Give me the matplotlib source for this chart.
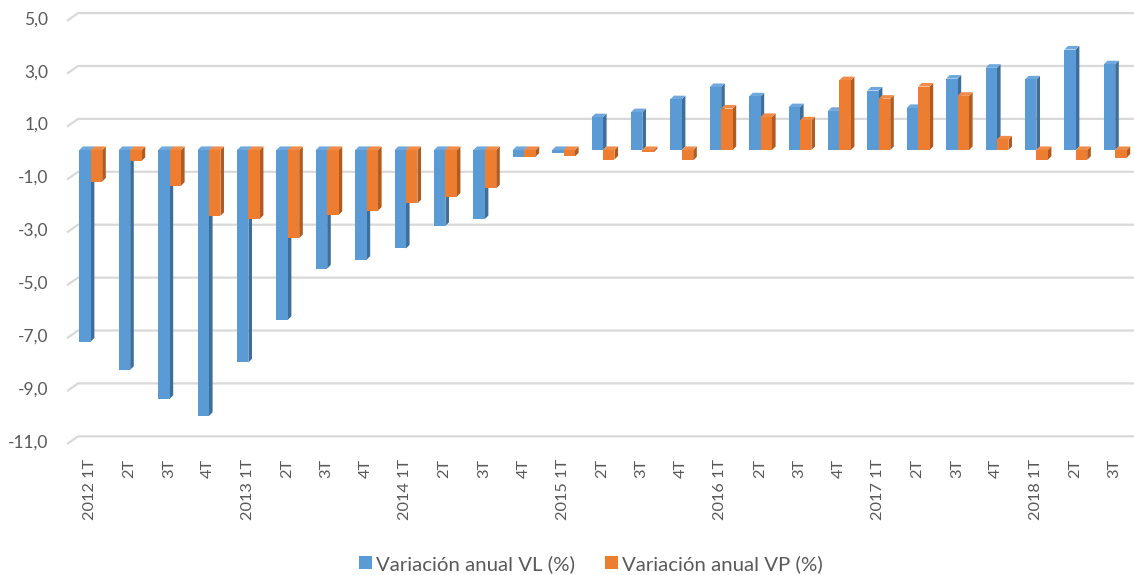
import matplotlib
matplotlib.use("Agg")
import matplotlib.pyplot as plt
from matplotlib.patches import Polygon, Patch
import numpy as np

plt.rcParams['font.family'] = ['Lato', 'DejaVu Sans']

categories = ["2012 1T", "2T", "3T", "4T",
              "2013 1T", "2T", "3T", "4T",
              "2014 1T", "2T", "3T", "4T",
              "2015 1T", "2T", "3T", "4T",
              "2016 1T", "2T", "3T", "4T",
              "2017 1T", "2T", "3T", "4T",
              "2018 1T", "2T", "3T"]

vl = [-7.24, -8.31, -9.41, -10.05,
      -8.03, -6.42, -4.48, -4.15,
      -3.72, -2.87, -2.61, -0.25,
      -0.10, 1.24, 1.43, 1.92,
      2.38, 2.03, 1.62, 1.48,
      2.25, 1.59, 2.70, 3.11,
      2.67, 3.80, 3.24]

vp = [-1.19, -0.41, -1.35, -2.49,
      -2.60, -3.33, -2.45, -2.29,
      -2.02, -1.76, -1.45, -0.25,
      -0.24, -0.36, -0.08, -0.39,
      1.57, 1.25, 1.12, 2.64,
      1.94, 2.40, 2.05, 0.40,
      -0.37, -0.37, -0.29]

yticks = [5, 3, 1, -1, -3, -5, -7, -9, -11]
ytick_labels = ["5,0", "3,0", "1,0", "-1,0", "-3,0", "-5,0", "-7,0", "-9,0", "-11,0"]

legend_labels = ["Variación anual VL (%)", "Variación anual VP (%)"]

blue_front = "#5B9BD5"
blue_side = "#3E6E9C"
blue_top = "#6FA8DC"
orange_front = "#ED7D31"
orange_side = "#B35A1F"
orange_top = "#F08C48"
text_col = "#595959"
grid_col = "#D9D9D9"

W, H, DPI = 1134, 575, 100
fig = plt.figure(figsize=(W / DPI, H / DPI), dpi=DPI)

# pixel geometry of the plot area
px_left, px_right = 67, 1134
ymin, ymax = -11.0, 5.3
px_per_unit = 26.45
px_bottom = 441
px_top = px_bottom - (ymax - ymin) * px_per_unit
ax = fig.add_axes([px_left / W, 1 - px_bottom / H,
                   (px_right - px_left) / W, (px_bottom - px_top) / H])

cat_px = 39.4
x0_px = 90
xmin = -(x0_px - px_left) / cat_px
xmax = xmin + (px_right - px_left) / cat_px
ax.set_xlim(xmin, xmax)
ax.set_ylim(ymin, ymax)

for s in ax.spines.values():
    s.set_visible(False)

# 3D offsets (data units)
dx = 3.6 / cat_px
dy = 3.6 / px_per_unit
gdx = 11 / cat_px
g_back = 4.7 / px_per_unit
g_front = 3.0 / px_per_unit

# gridlines (back wall with a slanted floor edge on the left)
for v in yticks:
    ax.plot([xmin, xmin + gdx, xmax], [v - g_front, v + g_back, v + g_back],
            color=grid_col, lw=1.6, zorder=0.5, clip_on=False,
            solid_capstyle='butt')

x = np.arange(len(categories))
width = 0.29
off_vl = -0.125
off_vp = 0.165


def draw_series(xs, vals, front, side, top, z):
    bars = ax.bar(xs, vals, width=width, color=front, zorder=z, linewidth=0)
    for b, v in zip(bars, vals):
        xl = b.get_x()
        xr = xl + b.get_width()
        # side face
        ax.add_patch(Polygon([(xr, 0), (xr, v), (xr + dx, v + dy), (xr + dx, dy)],
                             closed=True, facecolor=side, edgecolor='none',
                             zorder=z - 0.1))
        # top face
        ytop = max(v, 0)
        ax.add_patch(Polygon([(xl, ytop), (xr, ytop), (xr + dx, ytop + dy),
                              (xl + dx, ytop + dy)],
                             closed=True, facecolor=top, edgecolor='none',
                             zorder=z - 0.1))
    return bars


draw_series(x + off_vl, vl, blue_front, blue_side, blue_top, 2)
draw_series(x + off_vp, vp, orange_front, orange_side, orange_top, 3)

ax.set_yticks(yticks)
ax.set_yticklabels(ytick_labels)
ax.set_xticks(x)
ax.set_xticklabels(categories, rotation=90, va='top', ha='center')
ax.tick_params(axis='y', length=0, pad=13.5, labelsize=12.5, labelcolor=text_col)
ax.tick_params(axis='x', length=0, pad=13, labelsize=11.8, labelcolor=text_col)

handles = [Patch(facecolor=blue_front, edgecolor='none'),
           Patch(facecolor=orange_front, edgecolor='none')]
leg = fig.legend(handles, legend_labels, loc='center', ncol=2,
                 bbox_to_anchor=(591 / W, 1 - 564 / H), frameon=False,
                 fontsize=14.7, handlelength=0.62, handleheight=0.62,
                 handletextpad=0.2, columnspacing=1.5)
for t in leg.get_texts():
    t.set_color(text_col)

fig.savefig("out.png", dpi=DPI, facecolor='white')
